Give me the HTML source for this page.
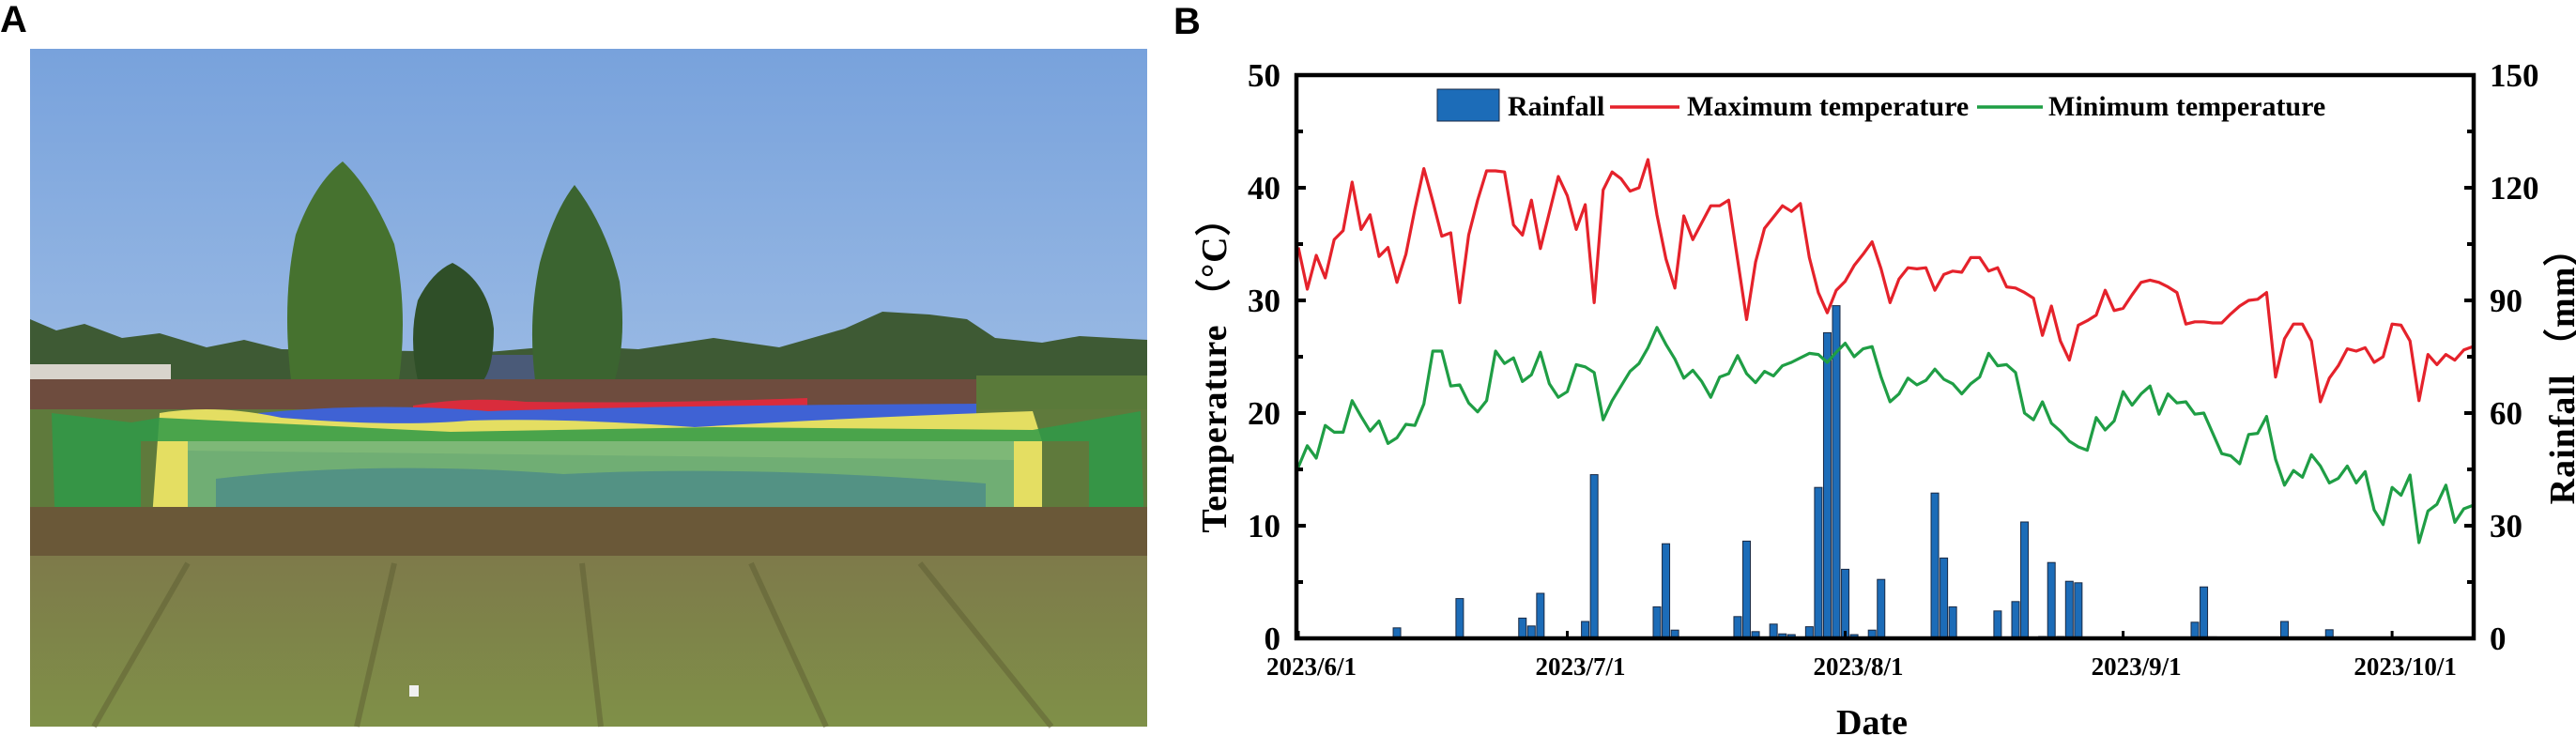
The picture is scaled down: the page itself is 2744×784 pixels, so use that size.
<!DOCTYPE html>
<html><head><meta charset="utf-8">
<style>
html,body{margin:0;padding:0;background:#fff;}
svg{display:block;}
text{font-family:"Liberation Serif",serif;font-weight:bold;fill:#000;}
.lab{font-family:"Liberation Sans",sans-serif;font-weight:bold;}
</style></head>
<body>
<svg id="fig" width="2744" height="784" viewBox="0 0 2744 784" xmlns="http://www.w3.org/2000/svg">
<defs>
<linearGradient id="sky" x1="0" y1="0" x2="0" y2="1">
<stop offset="0" stop-color="#78a2dc"/><stop offset="1" stop-color="#bcd2ec"/>
</linearGradient>
<linearGradient id="field" x1="0" y1="0" x2="0" y2="1">
<stop offset="0" stop-color="#7e7a4a"/><stop offset="1" stop-color="#7f9048"/>
</linearGradient>
</defs>
<text class="lab" x="0" y="34" font-size="40">A</text>
<g>
<rect x="32" y="52" width="1190" height="722" fill="url(#sky)"/>
<path d="M32 340 L60 352 L90 345 L130 360 L170 355 L220 370 L260 362 L300 372 L520 375 L600 368 L680 372 L760 360 L830 370 L900 350 L940 332 L990 335 L1030 340 L1060 360 L1110 365 L1150 358 L1222 362 L1222 410 L32 410 Z" fill="#3e5a34"/>
<rect x="32" y="388" width="150" height="18" fill="#d8d4cc"/>
<rect x="500" y="378" width="80" height="30" fill="#4a5a78"/>
<path d="M365 172 Q395 200 420 260 Q435 330 425 405 L310 405 Q300 320 315 250 Q335 195 365 172 Z" fill="#46722f"/>
<path d="M482 280 Q520 300 526 350 Q526 390 515 405 L445 405 Q435 360 445 320 Q460 290 482 280 Z" fill="#2f4f28"/>
<path d="M612 197 Q645 240 660 300 Q668 360 655 405 L570 405 Q562 340 575 280 Q590 225 612 197 Z" fill="#3b6430"/>
<rect x="32" y="404" width="1190" height="34" fill="#6e4c3e"/>
<rect x="1040" y="400" width="182" height="40" fill="#5a7a3a"/>
<rect x="32" y="436" width="1190" height="110" fill="#5f7a3c"/>
<path d="M440 432 Q500 422 560 428 Q700 430 860 424 L860 446 L440 446 Z" fill="#d92c3c"/>
<path d="M275 440 Q400 428 520 438 Q700 432 1040 430 L1040 462 L275 462 Z" fill="#3f62d4"/>
<path d="M170 440 Q230 430 300 445 Q420 455 500 448 Q600 445 740 455 Q900 445 1100 438 L1110 470 L1110 560 L1080 560 L1080 490 L200 480 L200 580 L160 580 Z" fill="#e4de62"/>
<path d="M200 470 L1080 470 L1080 545 L200 545 Z" fill="#72b47a" opacity="0.9"/>
<path d="M230 510 Q400 490 600 505 Q800 495 1050 515 L1050 545 L230 545 Z" fill="#3f7f90" opacity="0.6"/>
<path d="M55 440 L140 450 L170 445 L480 460 L760 455 L1100 458 L1215 438 L1220 600 L1160 555 L1160 470 L150 470 L150 580 L60 600 Z" fill="#2f9a48" opacity="0.85"/>
<rect x="32" y="540" width="1190" height="55" fill="#6a5838"/>
<rect x="32" y="592" width="1190" height="182" fill="url(#field)"/>
<g stroke="#5a5a30" stroke-width="6" opacity="0.45">
<line x1="200" y1="600" x2="100" y2="774"/><line x1="420" y1="600" x2="380" y2="774"/><line x1="620" y1="600" x2="640" y2="774"/><line x1="800" y1="600" x2="880" y2="774"/><line x1="980" y1="600" x2="1120" y2="774"/>
</g>
<rect x="436" y="730" width="10" height="12" fill="#f0f0f0"/>
</g>

<text class="lab" x="1250" y="36" font-size="40">B</text>
<g id="chart"></g>
</svg>
<script>
const tickDays=[0,30,61,92,122];
const tickLabels=['2023/6/1','2023/7/1','2023/8/1','2023/9/1','2023/10/1'];
const leftTicks=[0,10,20,30,40,50];
const rightTicks=[0,30,60,90,120,150];
const maxTemp=[34.7,31.0,34.0,32.0,35.4,36.2,40.5,36.3,37.6,33.9,34.7,31.6,34.1,38.1,41.7,38.8,35.7,36.0,29.8,35.8,38.9,41.5,41.5,41.4,36.7,35.8,38.9,34.6,37.8,41.0,39.3,36.3,38.5,29.8,39.8,41.4,40.8,39.7,40.0,42.5,37.6,33.7,31.1,37.5,35.4,36.9,38.4,38.4,38.9,33.6,28.3,33.4,36.4,37.4,38.4,37.9,38.6,33.8,30.7,28.9,30.9,31.7,33.1,34.1,35.2,32.8,
29.8,31.9,32.9,32.8,32.9,30.9,32.3,32.6,32.5,33.8,33.8,32.6,32.9,31.2,31.1,30.7,30.2,26.9,29.5,26.4,24.7,27.8,28.2,28.7,30.9,29.1,29.3,30.5,31.6,31.8,31.6,31.2,30.7,27.9,28.1,28.1,28.0,28.0,28.8,29.5,30.0,30.1,30.7,23.2,26.6,27.9,27.9,26.4,21.0,23.1,24.2,25.7,25.5,25.8,24.5,25.0,27.9,27.8,26.4,21.1,25.2,24.3,25.2,24.7,25.6,25.9];
const minTemp=[15.2,17.1,16.0,18.9,18.3,18.3,21.1,19.7,18.4,19.3,17.3,17.8,19.0,18.9,20.8,25.5,25.5,22.4,22.5,20.9,20.1,21.1,25.5,24.4,24.9,22.8,23.4,25.4,22.6,21.4,21.9,24.3,24.1,23.6,19.4,21.1,22.4,23.7,24.4,25.8,27.6,26.1,24.8,23.1,23.8,22.8,21.4,23.2,23.5,25.1,23.5,22.7,23.7,23.3,24.2,24.5,24.9,25.3,25.2,24.5,25.4,26.2,25.0,25.7,25.9,23.2,
21.0,21.7,23.1,22.5,22.9,23.9,23.0,22.6,21.7,22.6,23.2,25.3,24.2,24.3,23.6,20.0,19.4,21.0,19.1,18.4,17.5,17.0,16.7,19.6,18.5,19.3,21.9,20.7,21.7,22.4,19.9,21.7,20.9,21.0,19.9,20.0,18.2,16.4,16.2,15.5,18.1,18.2,19.7,15.9,13.6,14.9,14.3,16.3,15.3,13.8,14.2,15.3,13.8,14.8,11.4,10.1,13.4,12.7,14.5,8.5,11.3,11.9,13.6,10.3,11.5,11.8];
const rainDays=[11,18,25,26,27,32,33,39,40,41,42,49,50,51,53,54,55,57,58,59,60,61,62,64,65,66,71,72,73,78,80,81,83,84,85,86,87,92,99,100,101,102,110,115];
const rainMm=[2.8,10.6,5.4,3.3,12,4.5,43.6,0.3,8.4,25.2,2.2,5.8,25.9,1.8,3.8,1.2,1.0,3.1,40.2,81.4,88.6,18.4,1.0,2.2,15.7,0.3,38.7,21.4,8.4,7.3,9.8,31,0.5,20.2,0.5,15.2,14.8,0.3,0.3,4.3,13.7,0.4,4.5,2.3];

const NS='http://www.w3.org/2000/svg';
const g=document.getElementById('chart');
const L=1381,R=2635,T=80,B=680;
const x=d=>1383+d*9.55;
const yT=v=>B-(v/50)*(B-T);
const yR=v=>B-(v/150)*(B-T);
function mk(tag,attrs,parent){const e=document.createElementNS(NS,tag);for(const k in attrs)e.setAttribute(k,attrs[k]);(parent||g).appendChild(e);return e;}

rainDays.forEach((d,i)=>{
  const b=mk('rect',{x:x(d)-4,y:yR(rainMm[i]),width:8,height:Math.max(0.5,B-yR(rainMm[i])),fill:'#1c6cb8',stroke:'#1a2a44','stroke-width':1});
  
  
});
function line(arr,color,name){
  const p=mk('polyline',{points:arr.map((v,i)=>x(i)+','+yT(v)).join(' '),fill:'none',stroke:color,'stroke-width':3.2,'stroke-linejoin':'round'});
  
  
}
line(maxTemp,'#e5222b','max-temperature-line');
line(minTemp,'#1f9e45','min-temperature-line');

const fr=mk('rect',{x:L,y:T,width:R-L,height:B-T,fill:'none',stroke:'#000','stroke-width':4.5});



for(let v=0;v<=50;v+=5){
  const len=v%10===0?10:7;
  mk('line',{x1:L,x2:L+len,y1:yT(v),y2:yT(v),stroke:'#000','stroke-width':4});
  mk('line',{x1:R-len,x2:R,y1:yT(v),y2:yT(v),stroke:'#000','stroke-width':4});
}
leftTicks.forEach(v=>{
  const t=mk('text',{x:1364,y:yT(v)+12,'font-size':35,'text-anchor':'end'});t.textContent=v;
  
  
});
rightTicks.forEach(v=>{
  const t=mk('text',{x:2652,y:yR(v)+12,'font-size':35,'text-anchor':'start'});t.textContent=v;
  
  
});
tickDays.forEach((d,i)=>{
  mk('line',{x1:x(d),x2:x(d),y1:B,y2:B-8,stroke:'#000','stroke-width':3});
  const t=mk('text',{x:x(d)+14,y:719,'font-size':27,'text-anchor':'middle'});t.textContent=tickLabels[i];
  
  
});
let t=mk('text',{x:1994,y:782,'font-size':38,'text-anchor':'middle'});t.textContent='Date';


t=mk('text',{x:0,y:0,'font-size':38,'text-anchor':'middle',transform:'translate(1306,390) rotate(-90)','letter-spacing':'1'});
t.textContent='Temperature （°C）';


t=mk('text',{x:0,y:0,'font-size':38,'text-anchor':'middle',transform:'translate(2742,391) rotate(-90)','letter-spacing':'1'});
t.textContent='Rainfall （mm）';



const lg=mk('g',{});


mk('rect',{x:1531,y:95,width:66,height:34,fill:'#1c6cb8',stroke:'#1a2a44','stroke-width':1},lg);
t=mk('text',{x:1606,y:123,'font-size':30},lg);t.textContent='Rainfall';


mk('line',{x1:1715,x2:1789,y1:114,y2:114,stroke:'#e5222b','stroke-width':3.5},lg);
t=mk('text',{x:1797,y:123,'font-size':30},lg);t.textContent='Maximum temperature';


mk('line',{x1:2106,x2:2176,y1:114,y2:114,stroke:'#1f9e45','stroke-width':3.5},lg);
t=mk('text',{x:2182,y:123,'font-size':30},lg);t.textContent='Minimum temperature';


</script>
</body></html>
